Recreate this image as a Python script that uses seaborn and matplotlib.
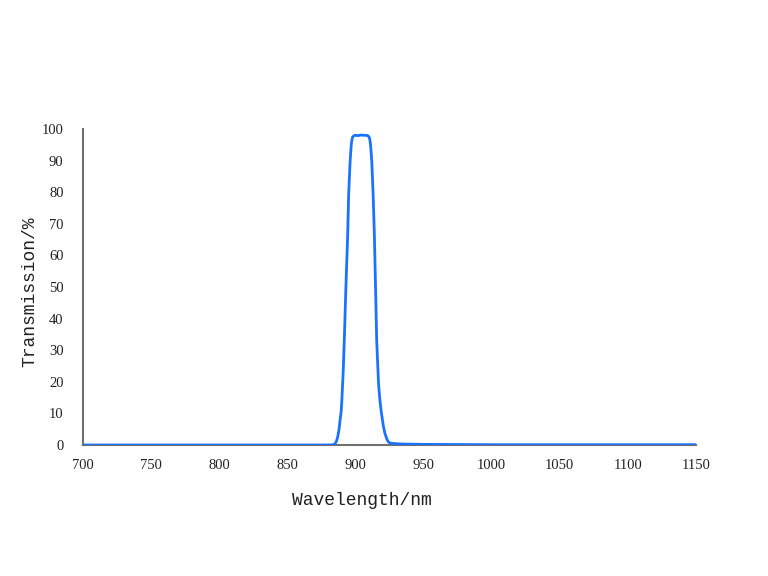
import pandas as pd
import matplotlib
matplotlib.use("Agg")
import matplotlib.pyplot as plt
import seaborn as sns

# transmission curve
wavelength = [700, 800, 870, 880, 883, 884, 885, 886, 887, 888, 888.7, 889.5, 890, 891, 891.8, 893,
              894.3, 895, 896, 896.5, 897, 897.5, 898, 899, 900, 902, 904, 906, 908, 909, 910, 910.5,
              911, 911.5, 912, 913, 913.9, 915, 915.6, 917, 918, 919, 919.7, 920.5, 921.5, 923,
              924, 925, 927, 930, 935, 950, 1000, 1150]
transmission = [0, 0, 0, 0, 0.05, 0.15, 0.4, 1.1, 2.6, 5.0, 7.8, 10.5, 14, 23, 33, 50,
                66.5, 79, 89, 92.5, 95.3, 96.8, 97.5, 97.9, 98.0, 97.9, 98.1, 98.0, 98.0, 97.9, 97.5, 96.8,
                95.3, 92.8, 89.5, 79, 66.5, 45, 33, 19, 14, 10.3, 8.3, 6.0, 3.9, 1.9,
                1.1, 0.7, 0.5, 0.4, 0.3, 0.2, 0.1, 0.1]

x_ticks = [700, 750, 800, 850, 900, 950, 1000, 1050, 1100, 1150]
y_ticks = [0, 10, 20, 30, 40, 50, 60, 70, 80, 90, 100]

df = pd.DataFrame({"Wavelength": wavelength, "Transmission": transmission})

sns.set_style("white")
plt.rcParams["font.family"] = ["Liberation Serif", "DejaVu Serif"]

fig = plt.figure(figsize=(7.68, 5.76), dpi=100)
ax = fig.add_axes([83 / 768, 1 - 445 / 576, 613 / 768, 316 / 576])

sns.lineplot(data=df, x="Wavelength", y="Transmission", ax=ax,
             color="#1a73ff", linewidth=2.0, zorder=3)

ax.set_xlim(700, 1150)
ax.set_ylim(0, 100)
ax.set_xticks(x_ticks)
ax.set_yticks(y_ticks)
ax.tick_params(length=0, labelsize=10.5, colors="#222222")
ax.tick_params(axis="x", pad=10)
ax.tick_params(axis="y", pad=14)

for side in ["top", "right"]:
    ax.spines[side].set_visible(False)
for side in ["left", "bottom"]:
    ax.spines[side].set_color("#707070")
    ax.spines[side].set_linewidth(1.5)

mono = ["Liberation Mono", "DejaVu Sans Mono"]
ax.set_xlabel("Wavelength/nm", fontsize=13, family=mono, color="#222222")
ax.set_ylabel("Transmission/%", fontsize=13, family=mono, color="#222222")
ax.xaxis.set_label_coords(0.455, -0.15)
ax.yaxis.set_label_coords(-0.073, 0.484)

fig.savefig("out.png", dpi=100)
